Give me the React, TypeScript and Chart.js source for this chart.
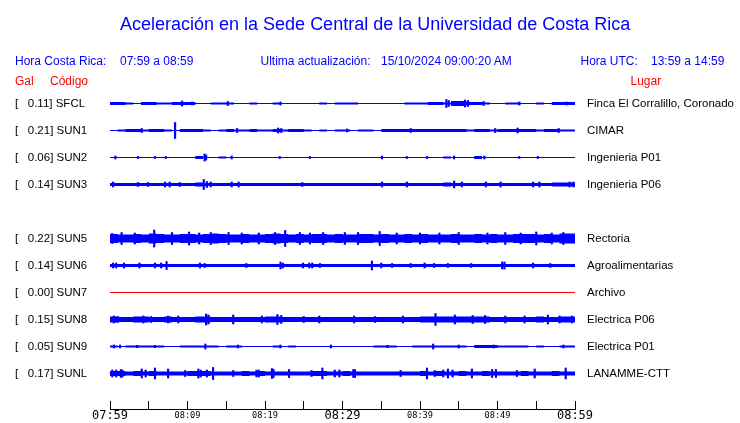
import React, { useEffect, useRef } from 'react';
import { Chart, registerables } from 'chart.js';

Chart.register(...registerables);

// ---------- texts ----------
const chartTitle = 'Aceleración en la Sede Central de la Universidad de Costa Rica';
const localTimeLabel = 'Hora Costa Rica:';
const localTimeRange = '07:59 a 08:59';
const updateLabel = 'Ultima actualización:';
const updateValue = '15/10/2024 09:00:20 AM';
const utcLabel = 'Hora UTC:';
const utcRange = '13:59 a 14:59';
const galHeader = 'Gal';
const codeHeader = 'Código';
const placeHeader = 'Lugar';

// ---------- stations ----------
const stationCodes = ['SFCL', 'SUN1', 'SUN2', 'SUN3', 'SUN5', 'SUN6', 'SUN7', 'SUN8', 'SUN9', 'SUNL'];
const peakGal = [0.11, 0.21, 0.06, 0.14, 0.22, 0.14, 0.0, 0.15, 0.05, 0.17];
const stationPlaces = [
  'Finca El Corralillo, Coronado',
  'CIMAR',
  'Ingenieria P01',
  'Ingenieria P06',
  'Rectoria',
  'Agroalimentarias',
  'Archivo',
  'Electrica P06',
  'Electrica P01',
  'LANAMME-CTT',
];

// ---------- time axis (minutes after 07:59) ----------
const timeTickLabels = ['07:59', '08:09', '08:19', '08:29', '08:39', '08:49', '08:59'];
const majorTimeLabels = ['07:59', '08:29', '08:59'];

// ---------- trace envelopes: half amplitude per minute (trace units) ----------
const sfclEnv = [
  1.5, 1.5, 1.5, 1, 0.5, 1.5, 1.5, 1, 1, 1.5,
  1.5, 1.5, 0.5, 0.5, 1, 1, 1, 0.5, 0.5, 1,
  0.5, 0.5, 1, 0.5, 0.5, 0.5, 0.5, 0.5, 1, 0.5,
  1, 1, 1, 0.5, 0.5, 0.5, 0.5, 0.5, 0.5, 1,
  1, 1, 1.5, 1.5, 1, 2.5, 2.5, 1.5, 1.5, 1,
  0.5, 0.5, 1, 1, 0.5, 0.5, 1, 0.5, 1.5, 1.5,
];
const sun1Env = [
  1, 0.5, 1, 1.5, 1.5, 1, 1.5, 1.5, 1, 0.5,
  1.5, 1.5, 1.5, 1, 0.5, 1, 1.5, 1, 1, 1.5,
  1, 1, 1.5, 1, 1.5, 1.5, 1, 0.5, 1, 0.5,
  1, 1, 0.5, 1, 1, 0.5, 1.5, 1.5, 1.5, 1.5,
  1.5, 1.5, 1.5, 1.5, 1.5, 1.5, 1.5, 1, 1.5, 1.5,
  1, 1.5, 1.5, 1.5, 1.5, 1.5, 1, 1.5, 1.5, 1,
];
const sun2Env = [
  1, 0.5, 0.5, 0.5, 0.5, 0.5, 0.5, 0.5, 0.5, 0.5,
  0.5, 0.5, 1.5, 0.5, 0.5, 1, 0.5, 0.5, 0.5, 0.5,
  0.5, 0.5, 0.5, 0.5, 0.5, 0.5, 0.5, 0.5, 0.5, 0.5,
  0.5, 0.5, 0.5, 0.5, 0.5, 0.5, 0.5, 0.5, 0.5, 0.5,
  0.5, 0.5, 0.5, 0.5, 1, 0.5, 0.5, 0.5, 1.5, 0.5,
  0.5, 0.5, 0.5, 0.5, 0.5, 0.5, 0.5, 0.5, 0.5, 0.5,
];
const sun3Env = [
  2, 1.5, 1.5, 1.5, 1.5, 1.5, 1.5, 1.5, 1.5, 1.5,
  1.5, 1.5, 2, 1.5, 1.5, 1.5, 1.5, 1.5, 1.5, 1.5,
  1.5, 1.5, 1.5, 1.5, 1.5, 1.5, 1.5, 1.5, 1.5, 1.5,
  1.5, 1.5, 1.5, 1.5, 1.5, 1.5, 1.5, 1.5, 1.5, 1.5,
  1.5, 1.5, 1.5, 1.5, 2, 1.5, 1.5, 1.5, 1.5, 1.5,
  1.5, 1.5, 1.5, 1.5, 1.5, 1.5, 1.5, 1.5, 2, 2,
];
const sun5Env = [
  4, 4.5, 4, 4, 4.5, 4, 5, 4.5, 4, 4,
  4.5, 4.5, 4, 4.5, 5, 4.5, 4, 4, 4.5, 4,
  4, 4.5, 5, 4.5, 4, 4.5, 4, 4.5, 4.5, 4,
  4.5, 4, 4, 4.5, 4.5, 4, 4.5, 4, 4, 4.5,
  4, 4.5, 4, 4, 4, 4.5, 4, 4, 4.5, 4,
  4.5, 4, 4, 4.5, 4.5, 4.5, 4, 4.5, 4, 5,
];
const sun6Env = [
  2, 1.5, 1.5, 1.5, 1.5, 1.5, 1.5, 1.5, 1.5, 1.5,
  1.5, 1.5, 1.5, 1.5, 1.5, 1.5, 1.5, 1.5, 1.5, 1.5,
  1.5, 1.5, 1.5, 1.5, 1.5, 1.5, 1.5, 1.5, 1.5, 1.5,
  1.5, 1.5, 1.5, 1.5, 1.5, 1.5, 1.5, 1.5, 1.5, 1.5,
  1.5, 1.5, 1.5, 1.5, 1.5, 1.5, 1.5, 1.5, 1.5, 1.5,
  1.5, 1.5, 1.5, 1.5, 1.5, 1.5, 1.5, 1.5, 1.5, 1.5,
];
const sun7Env = [
  0.5, 0.5, 0.5, 0.5, 0.5, 0.5, 0.5, 0.5, 0.5, 0.5,
  0.5, 0.5, 0.5, 0.5, 0.5, 0.5, 0.5, 0.5, 0.5, 0.5,
  0.5, 0.5, 0.5, 0.5, 0.5, 0.5, 0.5, 0.5, 0.5, 0.5,
  0.5, 0.5, 0.5, 0.5, 0.5, 0.5, 0.5, 0.5, 0.5, 0.5,
  0.5, 0.5, 0.5, 0.5, 0.5, 0.5, 0.5, 0.5, 0.5, 0.5,
  0.5, 0.5, 0.5, 0.5, 0.5, 0.5, 0.5, 0.5, 0.5, 0.5,
];
const sun8Env = [
  3, 3, 2.5, 2.5, 3, 3, 2.5, 2.5, 3, 2.5,
  2.5, 2.5, 3, 3, 2.5, 2.5, 2.5, 2.5, 2.5, 2.5,
  2.5, 3, 3, 2.5, 2.5, 2.5, 2.5, 2.5, 2.5, 2.5,
  2.5, 2.5, 2.5, 2.5, 2.5, 2.5, 2.5, 2.5, 2.5, 2.5,
  2.5, 3, 3, 3, 3, 3, 3, 3, 3, 3,
  2.5, 2.5, 2.5, 2.5, 2.5, 2.5, 3, 2.5, 2.5, 3,
];
const sun9Env = [
  1, 1, 0.5, 1, 1, 1, 1, 1, 0.5, 0.5,
  1, 1, 1, 1, 1, 0.5, 1, 1, 0.5, 0.5,
  0.5, 0.5, 1, 0.5, 1, 0.5, 0.5, 0.5, 0.5, 0.5,
  0.5, 0.5, 0.5, 0.5, 0.5, 1, 1, 1, 0.5, 0.5,
  1, 1, 1, 1, 1, 1, 1, 0.5, 1.5, 1.5,
  1.5, 1, 1, 1, 1, 0.5, 1, 0.5, 0.5, 1,
];
const sunlEnv = [
  2.5, 2.5, 2.5, 2, 2.5, 2, 2.5, 2, 2, 2,
  2, 2.5, 2.5, 2.5, 2, 2, 2, 2, 2.5, 2,
  2.5, 2, 2, 2, 2, 2, 2, 2.5, 2.5, 2,
  2, 2.5, 2, 2, 2, 2, 2, 2, 2, 2,
  2, 2.5, 2, 2.5, 2, 2, 2.5, 2, 2, 2.5,
  2, 2, 2, 2, 2.5, 2, 2, 2, 2.5, 2,
];

// ---------- spikes: [minute, half amplitude] ----------
const sfclSpikes = [[9.3, 2.5], [10.6, 1.5], [15.2, 2], [22, 1.5], [43.4, 4], [43.7, 3], [45.8, 3.5], [46.2, 3], [48.2, 2], [52.8, 1.5], [58.9, 1.5]];
const sun1Spikes = [[4.1, 2], [8.4, 8], [16.4, 2], [21.7, 2.5], [22.1, 2], [30.6, 1.5], [38.8, 2], [49.7, 2], [52.6, 2.5], [57.9, 2]];
const sun2Spikes = [[0.7, 1.5], [3.6, 1], [5.8, 1], [7.2, 1], [12.2, 3.5], [12.4, 2.5], [15.7, 1.5], [21.9, 1], [25.8, 1], [35.1, 1.5], [38.3, 1], [40.9, 1], [44.4, 1.5], [48.3, 1.5], [52.8, 1], [55.2, 1]];
const sun3Spikes = [[0.4, 2.5], [3.6, 2], [4.9, 2], [7.1, 2.5], [7.7, 2.5], [9, 2], [12.1, 5], [12.5, 3], [13, 2.5], [15.7, 2.5], [16.6, 2.5], [24.8, 2], [35.1, 2.5], [38.3, 2.5], [44.4, 3.5], [45.4, 2.5], [48.5, 2.5], [50.4, 2.5], [54.6, 2.5], [55.4, 2.5], [59.3, 2.5], [59.8, 2.5]];
const sun5Spikes = [[0.3, 5], [1.5, 6], [3.2, 5.5], [5.7, 8.5], [8, 6], [10.2, 6.5], [11.5, 5.5], [13, 6], [15.3, 6], [17, 5.5], [19.2, 5.5], [21.3, 6], [22.6, 8], [24.5, 6], [25.8, 5.5], [27.5, 6], [30.3, 6], [32, 6], [34.8, 7], [37, 5.5], [40, 5.5], [42.5, 5.5], [45, 6], [48.7, 5.5], [51, 6], [53, 5.5], [55, 6.5], [57, 5.5], [58.5, 6]];
const sun6Spikes = [[0.4, 2.5], [0.8, 2.5], [1.8, 2.5], [3.8, 2.5], [5.8, 2.5], [6.6, 2.5], [7.3, 4], [11.6, 2.5], [12.2, 2], [17.6, 2], [22, 3.5], [22.3, 2.5], [24.9, 2.5], [25.7, 2.5], [26.1, 2.5], [27.1, 2], [33.8, 4.5], [35, 2.5], [36.4, 2], [38.8, 2], [40.6, 2.5], [41.8, 2], [43.6, 2], [46.6, 2], [50.6, 3.5], [50.9, 3.5], [54.6, 2.5], [56.8, 2]];
const sun7Spikes: number[][] = [];
const sun8Spikes = [[0.5, 3.5], [1, 3], [4.3, 3.5], [5.3, 3], [7.5, 3.5], [8.8, 3.5], [12.4, 5.5], [12.7, 4.5], [15.9, 4.5], [19.6, 3.5], [21.6, 5], [22.1, 4], [25, 3], [27, 3.5], [31.5, 3.5], [34.2, 3], [37.8, 3.5], [42, 6], [44.5, 4.5], [46.8, 4], [48.4, 4], [51, 3.5], [53.5, 3.5], [56.5, 4.5], [58, 3.5], [59.6, 3.5]];
const sun9Spikes = [[0.5, 1.5], [1.3, 1.5], [3.5, 1.2], [5.8, 1.2], [12.3, 2.5], [16.5, 1.5], [22, 1.5], [28.5, 1.5], [35.8, 1.2], [41.7, 2.5], [45, 1.5], [49.5, 1.5], [58.5, 1.5]];
const sunlSpikes = [[0.3, 3.5], [0.8, 3.5], [1.4, 4], [1.6, 3.5], [4.1, 4.5], [4.6, 3.5], [5.8, 5.5], [7.5, 4.5], [9.7, 3], [11.4, 4.5], [11.7, 3.5], [12.5, 3.5], [13.3, 6], [15.9, 3], [18.9, 3.5], [19.2, 3.5], [20.9, 5], [21.1, 4], [23.1, 4], [26, 3], [27.4, 5.5], [29, 3.5], [29.6, 3.5], [31.4, 4], [31.6, 4], [37.5, 3], [40.9, 5.5], [41.9, 3], [43, 3.5], [43.6, 4.5], [44.2, 3.5], [46.7, 4.5], [49.3, 4], [49.8, 4], [52.5, 3], [54.8, 4.5], [58.8, 5.5]];

const envelopes = [sfclEnv, sun1Env, sun2Env, sun3Env, sun5Env, sun6Env, sun7Env, sun8Env, sun9Env, sunlEnv];
const spikeLists = [sfclSpikes, sun1Spikes, sun2Spikes, sun3Spikes, sun5Spikes, sun6Spikes, sun7Spikes, sun8Spikes, sun9Spikes, sunlSpikes];

// ---------- styling / layout ----------
const BLUE = '#0000ff';
const RED = '#ff0000';
const SANS = "'Liberation Sans', Arial, sans-serif";
const MONO = "'DejaVu Sans Mono', monospace";
const ROW_GAP = 27;
const W = 740;
const H = 423;

const rowSlot = (i: number) => (i < 4 ? i : i + 1);

function leftLabel(i: number) {
  return '[   ' + peakGal[i].toFixed(2) + '] ' + stationCodes[i];
}

type TextItem = { text: string; x: number; baseline: number; size: number; color: string };
const textItems: TextItem[] = [
  { text: chartTitle, x: 120, baseline: 30, size: 18, color: BLUE },
  { text: localTimeLabel, x: 15, baseline: 65, size: 12, color: BLUE },
  { text: localTimeRange, x: 120, baseline: 65, size: 12, color: BLUE },
  { text: updateLabel, x: 260.5, baseline: 65, size: 12, color: BLUE },
  { text: updateValue, x: 381, baseline: 65, size: 12, color: BLUE },
  { text: utcLabel, x: 580.5, baseline: 65, size: 12, color: BLUE },
  { text: utcRange, x: 651, baseline: 65, size: 12, color: BLUE },
  { text: galHeader, x: 15, baseline: 85, size: 12, color: RED },
  { text: codeHeader, x: 50, baseline: 85, size: 12, color: RED },
  { text: placeHeader, x: 630.5, baseline: 85, size: 12, color: RED },
];

export default function App() {
  const canvasRef = useRef<HTMLCanvasElement | null>(null);

  useEffect(() => {
    const canvas = canvasRef.current;
    if (!canvas) return;
    const datasets: any[] = [];
    const spikeData: any[] = [];
    const spikeColors: string[] = [];
    const rowValues: number[] = [];

    stationCodes.forEach((_code, i) => {
      const center = rowSlot(i) * ROW_GAP;
      rowValues.push(center);
      const color = peakGal[i] === 0 ? RED : BLUE;
      const env = envelopes[i];
      const ext = [...env, env[env.length - 1]];
      const common = {
        type: 'line',
        borderWidth: 0,
        borderColor: 'rgba(0,0,0,0)',
        backgroundColor: color,
        pointRadius: 0,
        stepped: 'after',
        tension: 0,
      };
      datasets.push({ ...common, data: ext.map((a, m) => ({ x: m, y: center - a })), fill: false });
      datasets.push({ ...common, data: ext.map((a, m) => ({ x: m, y: center + a })), fill: '-1' });
      spikeLists[i].forEach(([t, a]) => {
        spikeData.push({ x: t, y: [center - a, center + a] });
        spikeColors.push(color);
      });
    });

    datasets.push({
      type: 'bar',
      data: spikeData,
      backgroundColor: spikeColors,
      borderWidth: 0,
      barThickness: 1.5,
      grouped: false,
    });

    const labelFont = { family: SANS, size: 11.5 };

    const chart = new Chart(canvas, {
      type: 'line',
      data: { datasets },
      options: {
        animation: false,
        responsive: false,
        maintainAspectRatio: false,
        events: [],
        layout: { padding: { left: 15, top: 90, right: 0, bottom: 0 } },
        plugins: {
          legend: { display: false },
          tooltip: { enabled: false },
          title: { display: false },
        },
        scales: {
          x: {
            type: 'linear',
            position: 'bottom',
            min: 0,
            max: 60,
            offset: false,
            afterFit: (s: any) => {
              s.height = 14;
            },
            border: { display: true, color: '#000', width: 1 },
            grid: {
              offset: false,
              drawOnChartArea: false,
              drawTicks: true,
              tickLength: -8,
              color: '#000',
              lineWidth: 1,
            },
            ticks: {
              stepSize: 5,
              autoSkip: false,
              maxRotation: 0,
              minRotation: 0,
              padding: 8,
              color: '#000',
              font: (ctx: any) => {
                const label = timeTickLabels[ctx.tick ? ctx.tick.value / 10 : -1];
                return {
                  family: MONO,
                  size: label && majorTimeLabels.includes(label) ? 12 : 8.6,
                  lineHeight: '14px',
                };
              },
              callback: (v: any) => {
                const m = Number(v);
                return m % 10 === 0 ? timeTickLabels[m / 10] : '';
              },
            },
          },
          y: {
            type: 'linear',
            position: 'left',
            reverse: true,
            min: -13.5,
            max: 305.5,
            afterFit: (s: any) => {
              s.width = 95;
            },
            afterBuildTicks: (s: any) => {
              s.ticks = rowValues.map((v) => ({ value: v }));
            },
            border: { display: false },
            grid: { display: false, drawTicks: false },
            ticks: {
              crossAlign: 'far',
              padding: 0,
              color: '#000',
              autoSkip: false,
              font: labelFont,
              callback: (_v: any, i: number) => leftLabel(i),
            },
          },
          y2: {
            type: 'linear',
            position: 'right',
            reverse: true,
            min: -13.5,
            max: 305.5,
            afterFit: (s: any) => {
              s.width = 165;
            },
            afterBuildTicks: (s: any) => {
              s.ticks = rowValues.map((v) => ({ value: v }));
            },
            border: { display: false },
            grid: { display: false, drawTicks: true, tickLength: 12 },
            ticks: {
              crossAlign: 'near',
              padding: 0,
              color: '#000',
              autoSkip: false,
              font: labelFont,
              callback: (_v: any, i: number) => stationPlaces[i],
            },
          },
        },
      } as any,
    });

    return () => chart.destroy();
  }, []);

  return (
    <div style={{ position: 'fixed', left: 0, top: 0, width: W, height: H, background: '#fff', overflow: 'hidden' }}>
      <canvas ref={canvasRef} width={W} height={H} style={{ position: 'absolute', left: 0, top: 0, width: W, height: H }} />
      {textItems.map((t, k) => (
        <span
          key={k}
          style={{
            position: 'absolute',
            left: t.x,
            top: t.baseline - t.size * 0.8465,
            fontFamily: SANS,
            fontSize: t.size,
            lineHeight: `${t.size}px`,
            color: t.color,
            whiteSpace: 'pre',
          }}
        >
          {t.text}
        </span>
      ))}
    </div>
  );
}
